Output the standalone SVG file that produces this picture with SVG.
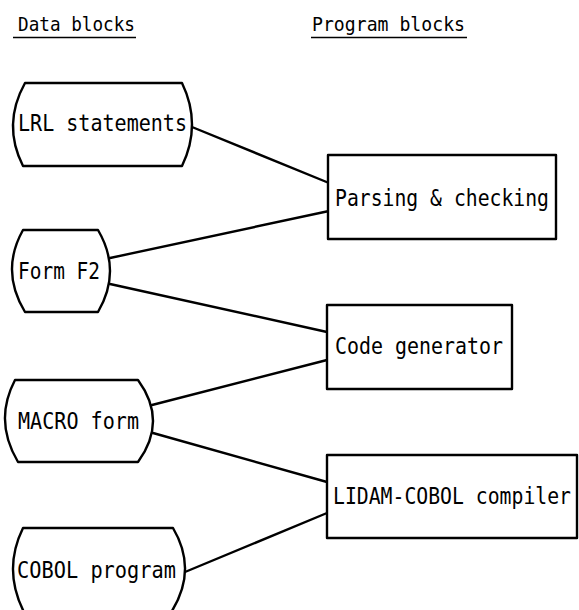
<svg xmlns="http://www.w3.org/2000/svg" width="579" height="610" viewBox="0 0 579 610">
<style>
.bg{fill:#fff}
.shape{fill:#fff;stroke:#000;stroke-width:2.4;stroke-linejoin:round}
.conn{fill:none;stroke:#000;stroke-width:2.4;stroke-linecap:round}
.lbl{font-family:"DejaVu Sans Mono","Liberation Mono",monospace;font-size:23px;fill:#000}
.hdr{font-family:"DejaVu Sans Mono","Liberation Mono",monospace;font-size:19px;fill:#000}
.ul{stroke:#000;stroke-width:1.6}
</style>
<rect class="bg" x="0" y="0" width="579" height="610"/>
<g id="headers">
<text class="hdr" x="18" y="31" textLength="117" lengthAdjust="spacingAndGlyphs">Data blocks</text>
<line class="ul" x1="13" y1="37.5" x2="136" y2="37.5"/>
<text class="hdr" x="312" y="31" textLength="153" lengthAdjust="spacingAndGlyphs">Program blocks</text>
<line class="ul" x1="311" y1="37.5" x2="467" y2="37.5"/>
</g>
<g id="connectors">
<line class="conn" x1="192" y1="127" x2="329" y2="183"/>
<line class="conn" x1="110" y1="258" x2="329" y2="211"/>
<line class="conn" x1="110" y1="284" x2="327" y2="332"/>
<line class="conn" x1="152" y1="405" x2="327" y2="360"/>
<line class="conn" x1="153" y1="433" x2="327" y2="482"/>
<line class="conn" x1="185" y1="572" x2="327" y2="513"/>
</g>
<g id="lrl-statements">
<path class="shape" d="M25,83 L182,83 Q202,124.5 182,166 L23,166 Q2,124.5 25,83 Z"/>
<text class="lbl" x="18" y="131" textLength="169" lengthAdjust="spacingAndGlyphs">LRL statements</text>
</g>
<g id="form-f2">
<path class="shape" d="M23,230 L98,230 Q122,271 98,312 L25,312 Q0,271 23,230 Z"/>
<text class="lbl" x="18" y="279" textLength="82" lengthAdjust="spacingAndGlyphs">Form F2</text>
</g>
<g id="macro-form">
<path class="shape" d="M15,380 L138,380 Q168,421 138,462 L18,462 Q-6.5,421 15,380 Z"/>
<text class="lbl" x="18" y="429" textLength="121" lengthAdjust="spacingAndGlyphs">MACRO form</text>
</g>
<g id="cobol-program">
<path class="shape" d="M23,528 L173,528 Q198.5,571 170,614 L25,614 Q2,571 23,528 Z"/>
<text class="lbl" x="17" y="578" textLength="159" lengthAdjust="spacingAndGlyphs">COBOL program</text>
</g>
<g id="parsing-checking">
<rect class="shape" x="328" y="155" width="228" height="84"/>
<text class="lbl" x="335" y="206" textLength="214" lengthAdjust="spacingAndGlyphs">Parsing &amp; checking</text>
</g>
<g id="code-generator">
<rect class="shape" x="327" y="305" width="185" height="84"/>
<text class="lbl" x="335" y="354" textLength="168" lengthAdjust="spacingAndGlyphs">Code generator</text>
</g>
<g id="lidam-cobol-compiler">
<rect class="shape" x="327" y="455" width="250" height="83"/>
<text class="lbl" x="333" y="504" textLength="238" lengthAdjust="spacingAndGlyphs">LIDAM-COBOL compiler</text>
</g>
</svg>
